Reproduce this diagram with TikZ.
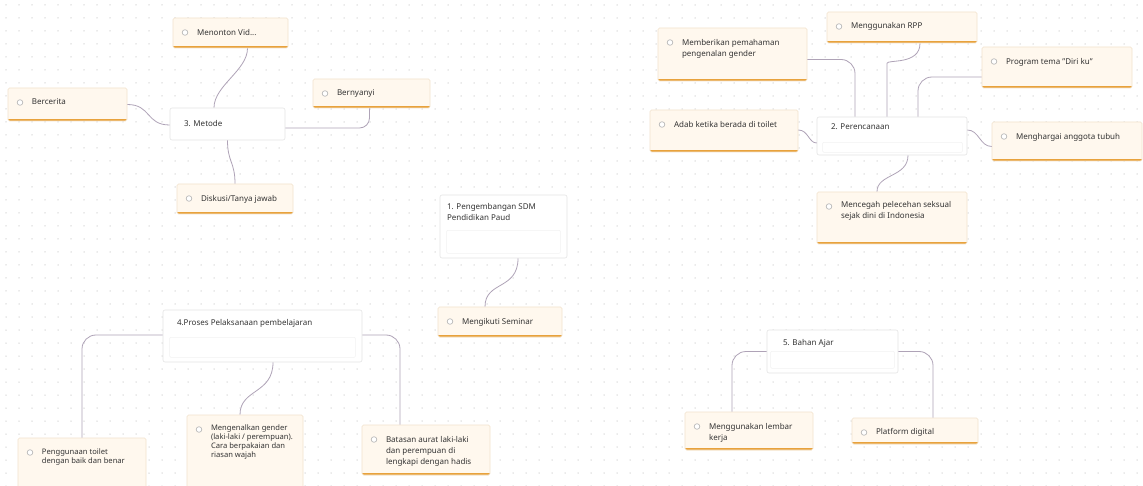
\documentclass[tikz,border=0pt]{standalone}
\usepackage{fontspec}
\setmainfont{Noto Sans}
\definecolor{leaffill}{HTML}{FFF8EE}
\definecolor{leafline}{HTML}{F1E2CC}
\definecolor{orangeline}{HTML}{E8A23C}
\definecolor{conncol}{HTML}{AFA3B7}
\definecolor{dotcol}{HTML}{D6D6D6}
\definecolor{cline}{HTML}{E4E4E4}
\definecolor{txt}{HTML}{333333}
\newcommand\lfbox[4][11]{\begin{minipage}[c][#3][t]{#2}\vspace*{#1pt}\leftskip=24pt\rightskip=2pt plus 1fil\fontsize{8}{11}\selectfont\color{txt}#4\par\end{minipage}}
\newcommand\lfboxs[4][11]{\begin{minipage}[c][#3][t]{#2}\vspace*{#1pt}\leftskip=24pt\rightskip=2pt plus 1fil\fontsize{7.6}{9.2}\selectfont\color{txt}#4\par\end{minipage}}
\newcommand\ctbox[4][9]{\begin{minipage}[c][#3][t]{#2}\vspace*{#1pt}\leftskip=14pt\rightskip=2pt plus 1fil\fontsize{8}{11}\selectfont\color{txt}#4\par\end{minipage}}
\tikzset{
  leaf/.style={draw=leafline, fill=leaffill, line width=0.6pt, inner sep=0pt, rounded corners=1.5pt,
    path picture={
      \fill[orangeline, sharp corners] ([yshift=-0.5pt]path picture bounding box.south west) rectangle ([yshift=2.4pt]path picture bounding box.south east);
      \draw[gray!55, fill=white, line width=0.7pt, sharp corners] ([xshift=12pt,yshift=-14.5pt]path picture bounding box.north west) circle (2.8pt);
    }},
  central/.style={draw=cline, fill=white, line width=0.6pt, inner sep=0pt, rounded corners=2pt},
  innerbox/.style={draw=gray!10, line width=0.5pt, rounded corners=1pt},
  conn/.style={draw=conncol, line width=0.8pt, rounded corners=10pt},
}
\begin{document}
\begin{tikzpicture}[x=1pt,y=-1pt]
\useasboundingbox (0,0) rectangle (1143,486);
\clip (0,0) rectangle (1143,486);
\fill[white] (0,0) rectangle (1143,486);
\foreach \i in {0,...,88} {
  \foreach \j in {0,...,37} {
    \fill[dotcol] (6+\i*13, 5+\j*13) circle (0.75pt);
  }
}
% central nodes
\node[central] (metode) at (227.5,124) {\ctbox[12.5]{115pt}{32pt}{3. Metode}};
\node[central] (pengembangan) at (503.5,226.5) {\begin{minipage}[c][63pt][t]{127pt}\vspace*{8pt}\leftskip=7pt\fontsize{8}{11}\selectfont\color{txt}1. Pengembangan SDM\\ Pendidikan Paud\par\end{minipage}};
\node[central] (perencanaan) at (892,136) {\ctbox[7]{150pt}{38pt}{2. Perencanaan}};
\node[central] (proses) at (262.5,336) {\ctbox[9.5]{199pt}{52pt}{4.Proses Pelaksanaan pembelajaran}};
\node[central] (bahan) at (832.5,351.5) {\ctbox[9.5]{131pt}{43pt}{\hspace*{2pt}5. Bahan Ajar}};
\draw[innerbox] ([xshift=7pt,yshift=5pt]pengembangan.south west) rectangle ([xshift=-7pt,yshift=28pt]pengembangan.south east);
\draw[innerbox] ([xshift=6pt,yshift=3pt]perencanaan.south west) rectangle ([xshift=-5pt,yshift=13pt]perencanaan.south east);
\draw[innerbox] ([xshift=7pt,yshift=5pt]proses.south west) rectangle ([xshift=-7pt,yshift=25pt]proses.south east);
\draw[innerbox] ([xshift=4pt,yshift=5pt]bahan.south west) rectangle ([xshift=-4pt,yshift=22pt]bahan.south east);
% leaf nodes
\node[leaf] (menonton) at (230.5,33) {\lfbox{115pt}{30pt}{Menonton Vid...}};
\node[leaf] (bercerita) at (67.5,104.5) {\lfbox{119pt}{33pt}{Bercerita}};
\node[leaf] (bernyanyi) at (371.5,93.5) {\lfbox{117pt}{29pt}{Bernyanyi}};
\node[leaf] (diskusi) at (235,199) {\lfbox{116pt}{30pt}{Diskusi/Tanya jawab}};
\node[leaf] (seminar) at (500,322) {\lfbox{124pt}{30pt}{Mengikuti Seminar}};
\node[leaf] (memberikan) at (732.5,54.5) {\lfbox{149pt}{53pt}{Memberikan pemahaman\\ pengenalan gender}};
\node[leaf] (rpp) at (902,27.5) {\lfbox[10]{150pt}{31pt}{Menggunakan RPP}};
\node[leaf] (program) at (1057,67.5) {\lfbox{150pt}{41pt}{Program tema "Diri ku"}};
\node[leaf] (adab) at (724,131) {\lfbox{148pt}{42pt}{Adab ketika berada di toilet}};
\node[leaf] (menghargai) at (1067,141.5) {\lfbox{150pt}{39pt}{Menghargai anggota tubuh}};
\node[leaf] (mencegah) at (892,218) {\lfbox[9]{150pt}{52pt}{Mencegah pelecehan seksual\\ sejak dini di Indonesia}};
\node[leaf] (toilet) at (82,468) {\lfboxs{128pt}{60pt}{Penggunaan toilet\\ dengan baik dan benar}};
\node[leaf] (mengenalkan) at (245,455) {\lfboxs[9.5]{116pt}{80pt}{Mengenalkan gender\\ (laki-laki / perempuan).\\ Cara berpakaian dan\\ riasan wajah}};
\node[leaf] (batasan) at (426,450) {\lfbox{128pt}{50pt}{Batasan aurat laki-laki\\ dan perempuan di\\ lengkapi dengan hadis}};
\node[leaf] (lembar) at (749,431) {\lfbox{128pt}{38pt}{Menggunakan lembar\\ kerja}};
\node[leaf] (platform) at (915,431) {\lfbox[10]{126pt}{26pt}{Platform digital}};
% connectors
\draw[conn] ([xshift=17pt]menonton.south) .. controls +(0,22) and +(0,-22) .. ([xshift=-13.5pt]metode.north);
\draw[conn] (bercerita.east) .. controls +(24,0) and +(-24,0) .. ([yshift=-1pt]metode.west);
\draw[conn] ([xshift=-2pt]bernyanyi.south) |- ([yshift=-4pt]metode.east);
\draw[conn] (metode.south) .. controls +(0,22) and +(0,-22) .. (diskusi.north);
\draw[conn] ([xshift=14.5pt]pengembangan.south) .. controls +(0,32) and +(0,-26) .. ([xshift=-15pt]seminar.north);
\draw[conn, rounded corners=14pt] ([yshift=-5pt]memberikan.east) -| ([xshift=-37pt]perencanaan.north);
\draw[conn] ([xshift=18pt]rpp.south) .. controls +(0,22) and +(0,-14) .. ++(-33,30) -- ([xshift=-5pt]perencanaan.north);
\draw[conn, rounded corners=14pt] ([yshift=-9.5pt]program.west) -| ([xshift=26pt]perencanaan.north);
\draw[conn] ([yshift=1pt]adab.east) .. controls +(10,0) and +(-8,0) .. ([yshift=-7pt]perencanaan.west);
\draw[conn] ([yshift=6pt]perencanaan.east) .. controls +(12,0) and +(-12,0) .. ([yshift=-5pt]menghargai.west);
\draw[conn] ([xshift=16pt]perencanaan.south) .. controls +(0,22) and +(0,-18) .. ([xshift=-15pt]mencegah.north);
\draw[conn, rounded corners=14pt] ([yshift=1pt]proses.west) -| (toilet.north);
\draw[conn, rounded corners=14pt] ([yshift=1pt]proses.east) -| ([xshift=-26pt]batasan.north);
\draw[conn] ([xshift=10.5pt]proses.south) .. controls +(0,32) and +(0,-26) .. ([xshift=-5pt]mengenalkan.north);
\draw[conn, rounded corners=14pt] (bahan.west) -| ([xshift=-17pt]lembar.north);
\draw[conn, rounded corners=14pt] (bahan.east) -| ([xshift=18pt]platform.north);
\end{tikzpicture}
\end{document}
